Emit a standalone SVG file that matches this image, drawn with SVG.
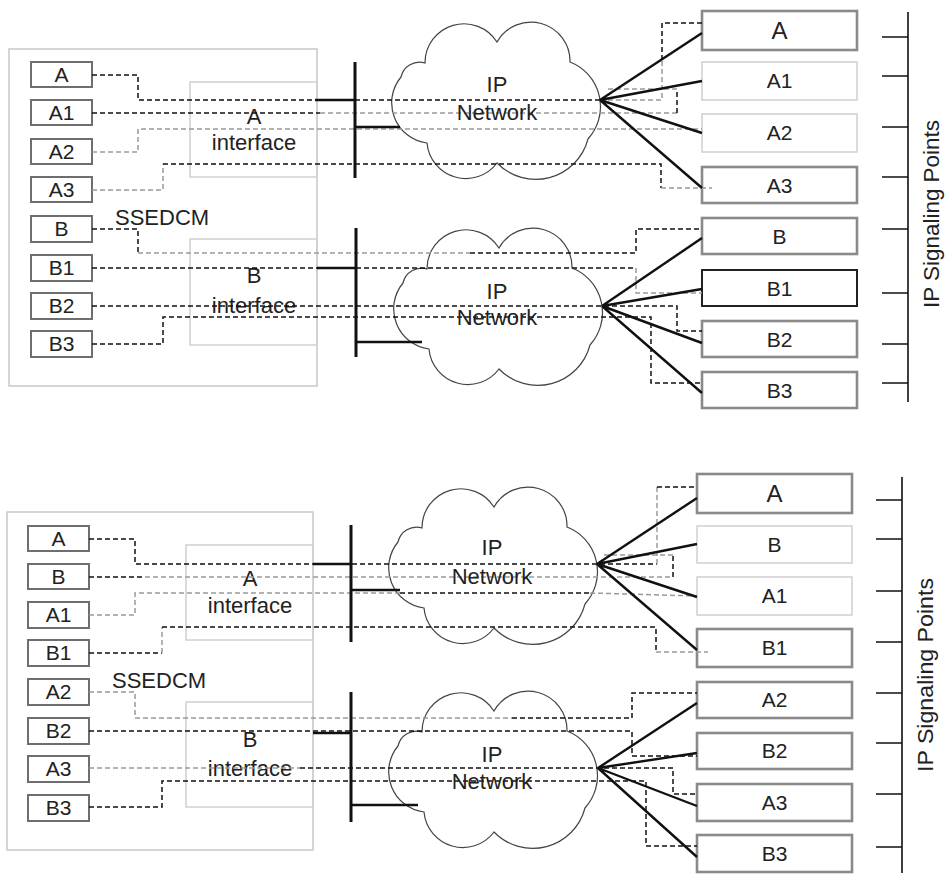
<svg xmlns="http://www.w3.org/2000/svg" xmlns:xlink="http://www.w3.org/1999/xlink" width="945" height="876" viewBox="0 0 945 876">
<defs>
<style>
text{font-family:"Liberation Sans",Arial,sans-serif;fill:#222;}
.lbl{font-size:21px;text-anchor:middle;}
.big{font-size:22px;text-anchor:middle;}
.outer{fill:none;stroke:#c8c8c8;stroke-width:1.5;}
.iface{fill:none;stroke:#d0d0d0;stroke-width:1.5;}
.lbox{fill:#fff;stroke:#6e6e6e;stroke-width:2;}
.rdark{fill:#fff;stroke:#8a8a8a;stroke-width:2.6;}
.rlight{fill:#fff;stroke:#cfcfcf;stroke-width:1.5;}
.rblack{fill:#fff;stroke:#222;stroke-width:2;}
.cloud{fill:none;stroke:#444;stroke-width:1.2;}
.bar{stroke:#111;stroke-width:3;fill:none;}
.solid{stroke:#111;stroke-width:2.4;fill:none;}
.dk{stroke:#111;stroke-width:1.5;stroke-dasharray:5 3;fill:none;}
.gy{stroke:#9a9a9a;stroke-width:1.5;stroke-dasharray:5 3;fill:none;}
.tick{stroke:#111;stroke-width:1.6;fill:none;}
</style>
<path id="cloud" class="cloud" d="M32,41 A39,39 0 0 1 104,20 A39,39 0 0 1 177,40 A48,48 0 0 1 195,117 A54,54 0 0 1 104,141 A39,39 0 0 1 34,121 A40.5,40.5 0 0 1 8,55 A19,19 0 0 1 32,41 Z"/>
</defs>
<rect width="945" height="876" fill="#fff"/>

<!-- ===== TOP HALF ===== -->
<g id="ssedcm-top">
<rect class="outer" x="9" y="49" width="308" height="337"/>
<text x="115" y="225" style="font-size:22px">SSEDCM</text>
</g>
<g id="a-interface-top">
<rect class="iface" x="190" y="82" width="127" height="95"/>
<text class="big" x="254" y="124">A</text>
<text class="big" x="254" y="150">interface</text>
</g>
<g id="b-interface-top">
<rect class="iface" x="190" y="239" width="127" height="106"/>
<text class="big" x="254" y="283">B</text>
<text class="big" x="254" y="313">interface</text>
</g>
<g id="cloud-top-1"><use xlink:href="#cloud" href="#cloud" x="393" y="22"/></g>
<g id="cloud-top-2"><use xlink:href="#cloud" href="#cloud" x="395" y="228"/></g>

<g id="left-top-boxes">
<g id="lt-A"><rect class="lbox" x="31" y="62" width="61" height="25"/><text class="lbl" x="61.5" y="82">A</text></g>
<g id="lt-A1"><rect class="lbox" x="31" y="100" width="61" height="25"/><text class="lbl" x="61.5" y="120">A1</text></g>
<g id="lt-A2"><rect class="lbox" x="31" y="139" width="61" height="25"/><text class="lbl" x="61.5" y="159">A2</text></g>
<g id="lt-A3"><rect class="lbox" x="31" y="177" width="61" height="25"/><text class="lbl" x="61.5" y="197">A3</text></g>
<g id="lt-B"><rect class="lbox" x="31" y="216" width="61" height="26"/><text class="lbl" x="61.5" y="236">B</text></g>
<g id="lt-B1"><rect class="lbox" x="31" y="255" width="61" height="26"/><text class="lbl" x="61.5" y="275">B1</text></g>
<g id="lt-B2"><rect class="lbox" x="31" y="293" width="61" height="26"/><text class="lbl" x="61.5" y="313">B2</text></g>
<g id="lt-B3"><rect class="lbox" x="31" y="331" width="61" height="26"/><text class="lbl" x="61.5" y="351">B3</text></g>
</g>

<g id="right-top-boxes">
<g id="rt-A"><rect class="rdark" x="702" y="11" width="155" height="39"/><text class="lbl" x="779.5" y="39" style="font-size:24px">A</text></g>
<g id="rt-A1"><rect class="rlight" x="702" y="62" width="155" height="38"/><text class="lbl" x="779.5" y="88">A1</text></g>
<g id="rt-A2"><rect class="rlight" x="702" y="114" width="155" height="38"/><text class="lbl" x="779.5" y="140">A2</text></g>
<g id="rt-A3"><rect class="rdark" x="702" y="167" width="155" height="36"/><text class="lbl" x="779.5" y="193">A3</text></g>
<g id="rt-B"><rect class="rdark" x="702" y="218" width="155" height="36"/><text class="lbl" x="779.5" y="244">B</text></g>
<g id="rt-B1"><rect class="rblack" x="702" y="270" width="155" height="36"/><text class="lbl" x="779.5" y="296">B1</text></g>
<g id="rt-B2"><rect class="rdark" x="702" y="321" width="155" height="36"/><text class="lbl" x="779.5" y="347">B2</text></g>
<g id="rt-B3"><rect class="rdark" x="702" y="372" width="155" height="36"/><text class="lbl" x="779.5" y="398">B3</text></g>
</g>

<g id="signaling-top">
<path class="tick" d="M908,12 V402 M882,37 H908 M882,76 H908 M882,127 H908 M882,177 H908 M882,229 H908 M882,293 H908 M882,344 H908 M882,383 H908"/>
<text transform="translate(939,214) rotate(-90)" class="big" textLength="188" lengthAdjust="spacingAndGlyphs">IP Signaling Points</text>
</g>

<!-- ===== BOTTOM HALF ===== -->
<g id="ssedcm-bottom">
<rect class="outer" x="7" y="512" width="306" height="338"/>
<text x="112" y="688" style="font-size:22px">SSEDCM</text>
</g>
<g id="a-interface-bottom">
<rect class="iface" x="186" y="545" width="127" height="95"/>
<text class="big" x="250" y="586">A</text>
<text class="big" x="250" y="613">interface</text>
</g>
<g id="b-interface-bottom">
<rect class="iface" x="186" y="702" width="127" height="105"/>
<text class="big" x="250" y="747">B</text>
<text class="big" x="250" y="776">interface</text>
</g>
<g id="cloud-bottom-1"><use xlink:href="#cloud" href="#cloud" x="390" y="487"/></g>
<g id="cloud-bottom-2"><use xlink:href="#cloud" href="#cloud" x="390" y="691"/></g>

<g id="left-bottom-boxes">
<g id="lb-A"><rect class="lbox" x="28" y="526" width="61" height="25"/><text class="lbl" x="58.5" y="546">A</text></g>
<g id="lb-B"><rect class="lbox" x="28" y="564" width="61" height="25"/><text class="lbl" x="58.5" y="584">B</text></g>
<g id="lb-A1"><rect class="lbox" x="28" y="602" width="61" height="26"/><text class="lbl" x="58.5" y="622">A1</text></g>
<g id="lb-B1"><rect class="lbox" x="28" y="640" width="61" height="26"/><text class="lbl" x="58.5" y="660">B1</text></g>
<g id="lb-A2"><rect class="lbox" x="28" y="679" width="61" height="26"/><text class="lbl" x="58.5" y="699">A2</text></g>
<g id="lb-B2"><rect class="lbox" x="28" y="718" width="61" height="26"/><text class="lbl" x="58.5" y="738">B2</text></g>
<g id="lb-A3"><rect class="lbox" x="28" y="756" width="61" height="26"/><text class="lbl" x="58.5" y="776">A3</text></g>
<g id="lb-B3"><rect class="lbox" x="28" y="795" width="61" height="26"/><text class="lbl" x="58.5" y="815">B3</text></g>
</g>

<g id="right-bottom-boxes">
<g id="rb-A"><rect class="rdark" x="697" y="474" width="155" height="39"/><text class="lbl" x="774.5" y="502" style="font-size:24px">A</text></g>
<g id="rb-B"><rect class="rlight" x="697" y="526" width="155" height="37"/><text class="lbl" x="774.5" y="552">B</text></g>
<g id="rb-A1"><rect class="rlight" x="697" y="577" width="155" height="38"/><text class="lbl" x="774.5" y="603">A1</text></g>
<g id="rb-B1"><rect class="rdark" x="697" y="629" width="155" height="38"/><text class="lbl" x="774.5" y="655">B1</text></g>
<g id="rb-A2"><rect class="rdark" x="697" y="682" width="155" height="36"/><text class="lbl" x="774.5" y="707">A2</text></g>
<g id="rb-B2"><rect class="rdark" x="697" y="733" width="155" height="36"/><text class="lbl" x="774.5" y="758">B2</text></g>
<g id="rb-A3"><rect class="rdark" x="697" y="784" width="155" height="37"/><text class="lbl" x="774.5" y="810">A3</text></g>
<g id="rb-B3"><rect class="rdark" x="697" y="835" width="155" height="37"/><text class="lbl" x="774.5" y="861">B3</text></g>
</g>

<g id="signaling-bottom">
<path class="tick" d="M902,477 V873 M876,500 H902 M876,539 H902 M876,591 H902 M876,642 H902 M876,693 H902 M876,743 H902 M876,794 H902 M876,847 H902"/>
<text transform="translate(933,675) rotate(-90)" class="big" textLength="194" lengthAdjust="spacingAndGlyphs">IP Signaling Points</text>
</g>

<!-- ===== CONNECTORS ===== -->
<g id="connectors">
<!-- top: A side -->
<path class="dk" d="M92,75 H138 V100 H600"/>
<path class="gy" d="M600,100 H662 V60"/>
<path class="dk" d="M662,60 V23 H702"/>
<path class="dk" d="M92,113 H320"/>
<path class="gy" d="M320,113 H677"/>
<path class="dk" d="M677,113 V89"/>
<path class="gy" d="M677,89 H606"/>
<path class="gy" d="M92,152 H138 V129 H702"/>
<path class="gy" d="M92,190 H163 V164"/>
<path class="dk" d="M163,164 H661 V188"/>
<path class="gy" d="M661,188 H712"/>
<!-- top: B side -->
<path class="dk" d="M92,229 H138 V253"/>
<path class="gy" d="M138,253 H470"/>
<path class="dk" d="M470,253 H636 V229 H702"/>
<path class="dk" d="M92,268 H636"/>
<path class="gy" d="M636,268 V293 H702"/>
<path class="dk" d="M92,306 H677 V331 H702"/>
<path class="dk" d="M92,344 H163 V317 H651 V383 H702"/>
<!-- top: bars and solid links -->
<path class="bar" d="M355,62 V178 M356,228 V357"/>
<path class="solid" d="M315,100 H355 M355,127 H400 M317,268 H356 M356,342 H422"/>
<path class="solid" d="M600,100 L702,33 M600,100 L702,81 M600,100 L702,133 M600,100 L702,188"/>
<path class="solid" d="M602,306 L702,238 M602,306 L702,289 M602,306 L702,343 M602,306 L702,393"/>

<!-- bottom: A side -->
<path class="dk" d="M89,539 H135 V564 H657"/>
<path class="gy" d="M657,564 V487"/>
<path class="dk" d="M657,487 H697"/>
<path class="dk" d="M89,577 H145"/>
<path class="gy" d="M145,577 H673"/>
<path class="dk" d="M673,577 V555"/>
<path class="gy" d="M673,555 H602"/>
<path class="gy" d="M89,615 H135 V593 H400"/>
<path class="dk" d="M400,593 H590"/>
<path class="gy" d="M590,593 L697,596"/>
<path class="dk" d="M89,653 H162"/>
<path class="gy" d="M162,653 V627"/>
<path class="dk" d="M162,627 H656 V652"/>
<path class="gy" d="M656,652 H708"/>
<!-- bottom: B side -->
<path class="gy" d="M89,692 H135 V718 H512"/>
<path class="dk" d="M512,718 H632 V693 H697"/>
<path class="dk" d="M89,731 H632 V756 H697"/>
<path class="gy" d="M89,768 H300"/>
<path class="dk" d="M300,768 H673 V794 H697"/>
<path class="dk" d="M89,807 H162 V781 H646 V846 H697"/>
<!-- bottom: bars and solid links -->
<path class="bar" d="M351,525 V642 M351,692 V822"/>
<path class="solid" d="M313,564 H351 M351,590 H400 M313,733 H351 M351,805 H418"/>
<path class="solid" d="M597,564 L697,498 M597,564 L697,544 M597,564 L697,597 M597,564 L697,650"/>
<path class="solid" d="M598,768 L697,703 M598,768 L697,753 M598,768 L697,806 M598,768 L697,857"/>
</g>

<g id="cloud-labels">
<text class="big" x="497" y="92">IP</text>
<text class="big" x="497" y="120">Network</text>
<text class="big" x="497" y="299">IP</text>
<text class="big" x="497" y="325">Network</text>
<text class="big" x="492" y="555">IP</text>
<text class="big" x="492" y="584">Network</text>
<text class="big" x="492" y="762">IP</text>
<text class="big" x="492" y="789">Network</text>
</g>
</svg>
